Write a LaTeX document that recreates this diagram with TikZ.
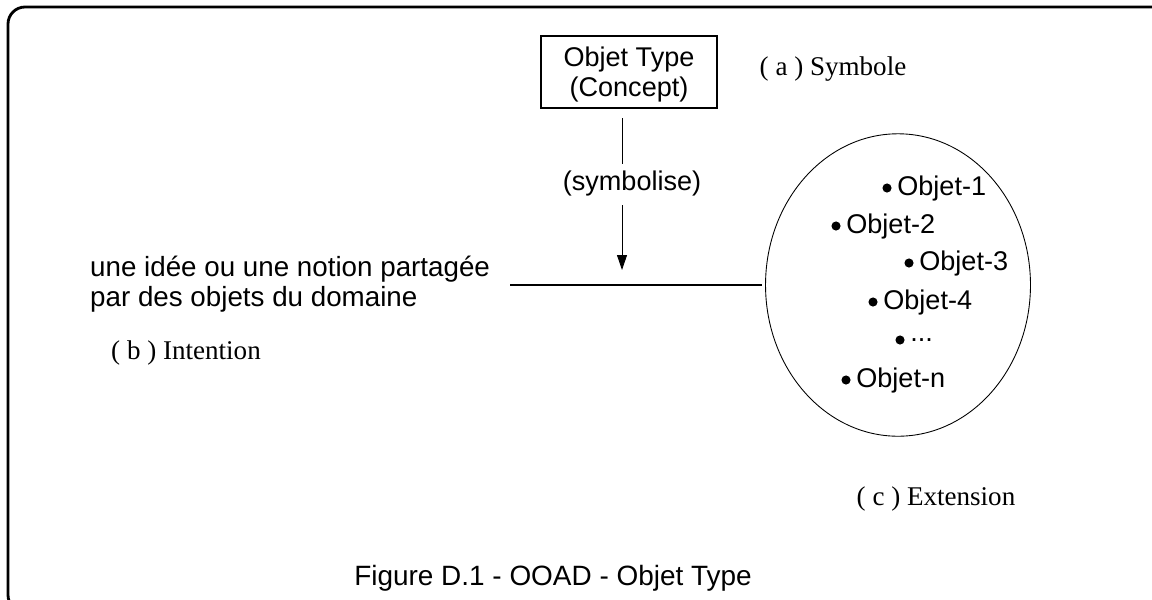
\documentclass[tikz,border=0pt]{standalone}
\usepackage{fontspec}
\setmainfont{Liberation Serif}
\setsansfont{Liberation Sans}
\usetikzlibrary{arrows.meta,positioning,shapes.geometric}
\newcommand\objdots{...}

\begin{document}
\begin{tikzpicture}[x=0.02cm,y=-0.02cm,font=\sffamily\fontsize{15.4}{17}\selectfont]
\tikzset{serif/.style={font=\rmfamily\fontsize{15.4}{17}\selectfont},
 objdot/.style={anchor=west,inner sep=0pt,xshift=0.2cm}}
\useasboundingbox (0,0) rectangle (1152,599);
% cadre
\draw[line width=1.6pt,rounded corners=0.34cm] (1170,7)--(8,7)--(8,612)--(60,612);
% symbole
\node[draw,line width=0.6pt,align=center,minimum width=3.52cm,minimum height=1.44cm,
 text depth=0pt] (otype) at (629,72) {\baselineskip=25\dimexpr 0.02cm\relax Objet Type\\(Concept)};
\node[serif] (sym) at (833,69) {( a ) Symbole};
\node (symb) at (632,183) {(symbolise)};
\coordinate (top) at (622,118);
\coordinate (mid1) at (622,164);
\coordinate (mid2) at (622,205);
\coordinate (tip) at (622,270);
\draw[line width=0.5pt] (top)--(mid1);
\draw[line width=0.5pt,-{Triangle[length=0.3cm,width=0.2cm]}] (mid2)--(tip);
% intention
\node[align=left,anchor=west,font=\sffamily\fontsize{15.8}{17.4}\selectfont] (idea) at (84,284)
 {une idée ou une notion partagée\\par des objets du domaine};
\node[serif] (intent) at (186,353) {( b ) Intention};
\coordinate (lstart) at (510,285);
\coordinate (lend) at (762,285);
\draw[line width=0.6pt] (lstart)--(lend);
% extension
\node[draw,ellipse,line width=0.5pt,minimum width=5.3cm,minimum height=6.05cm] (ext) at (898,285) {};
\foreach \x/\y/\t/\n in {887/188/Objet-1/o1,836/226/Objet-2/o2,909/263/Objet-3/o3,
 873/302/Objet-4/o4,900/340/\objdots/o5,846/380/Objet-n/on}
 {\fill (\x,\y) circle(2.6pt) node[objdot] (\n) {\t};}
\node[serif] (extn) at (936,499) {( c ) Extension};
\node[font=\sffamily\fontsize{15.9}{18}\selectfont] (caption) at (553,578) {Figure D.1 - OOAD - Objet Type};
\end{tikzpicture}
\end{document}
